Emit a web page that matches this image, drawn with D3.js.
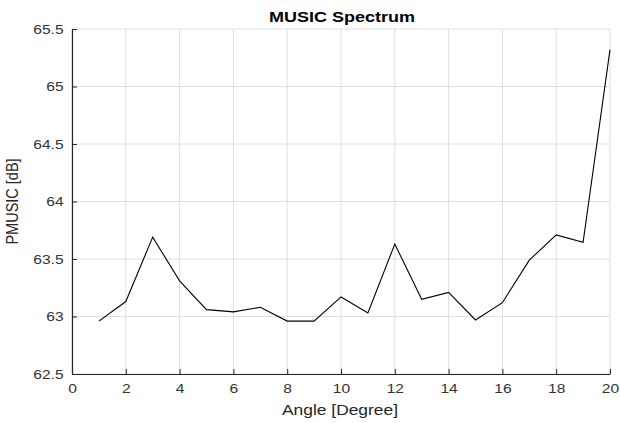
<!DOCTYPE html>
<html>
<head>
<meta charset="utf-8">
<script src="https://cdn.jsdelivr.net/npm/d3@7"></script>
<style>
  body { margin: 0; background: #fff; }
  text { font-family: "Liberation Sans", Arial, sans-serif; }
</style>
</head>
<body>
<div id="chart"></div>
<script>
// MUSIC spectrum values, one per angle
var angles = [1, 2, 3, 4, 5, 6, 7, 8, 9, 10, 11, 12, 13, 14, 15, 16, 17, 18, 19, 20],
  pmusic = [62.96, 63.13, 63.69, 63.31, 63.06, 63.04, 63.08, 62.96, 62.96, 63.17,
            63.03, 63.63, 63.15, 63.21, 62.97, 63.12, 63.49, 63.71, 63.645, 65.32];

var xTicks = [0, 2, 4, 6, 8, 10, 12, 14, 16, 18, 20],
  yTicks = [62.5, 63, 63.5, 64, 64.5, 65, 65.5];

// Placement
var width = 620,
  height = 423,
  mLeft = 72,
  mRight = 10,
  mTop = 29,
  mBottom = 49,
  stretch = 1.2; // the picture is widened a bit horizontally

var x = d3.scaleLinear().domain([0, 20]).range([mLeft, width - mRight]);
var y = d3.scaleLinear().domain([62.5, 65.5]).range([height - mBottom, mTop]);

var svg = d3.select("#chart")
  .append("svg")
  .attr("width", width)
  .attr("height", height);

// grid
var grid = svg.append("g").attr("stroke", "#dedede").attr("stroke-width", 1);
grid.selectAll("line.gx")
  .data(xTicks)
  .enter().append("line")
  .attr("x1", function(d) { return x(d); })
  .attr("x2", function(d) { return x(d); })
  .attr("y1", y(62.5))
  .attr("y2", y(65.5));
grid.selectAll("line.gy")
  .data(yTicks)
  .enter().append("line")
  .attr("x1", x(0))
  .attr("x2", x(20))
  .attr("y1", function(d) { return y(d); })
  .attr("y2", function(d) { return y(d); });

// axes, ticks pointing inward like MATLAB
var xAxis = d3.axisBottom(x).tickValues(xTicks).tickFormat(d3.format("d"))
    .tickSizeInner(-5).tickSizeOuter(0).tickPadding(10),
  yAxis = d3.axisLeft(y).tickValues(yTicks).tickFormat(function(d) { return String(d); })
    .tickSizeInner(-5).tickSizeOuter(0).tickPadding(7);

var gx = svg.append("g")
  .attr("transform", "translate(0," + y(62.5) + ")")
  .call(xAxis);
var gy = svg.append("g")
  .attr("transform", "translate(" + x(0) + ",0)")
  .call(yAxis);

[gx, gy].forEach(function(g) {
  g.select(".domain").attr("stroke", "#262626").attr("stroke-width", 1.2);
  g.selectAll(".tick line").attr("stroke", "#262626");
  g.selectAll(".tick text")
    .attr("fill", "#333")
    .style("font-size", "13px")
    .attr("font-family", null)
    .attr("transform", "scale(" + stretch + ",1)");
});

// spectrum line
var line = d3.line()
  .x(function(d, i) { return x(angles[i]); })
  .y(function(d) { return y(d); });

svg.append("path")
  .datum(pmusic)
  .attr("fill", "none")
  .attr("stroke", "#000")
  .attr("stroke-width", 1.1)
  .attr("d", line);

// labels
svg.append("text")
  .attr("transform", "translate(" + (x(10) + 1) + ",22) scale(" + stretch + ",1)")
  .attr("text-anchor", "middle")
  .attr("font-weight", "bold")
  .attr("font-size", "15px")
  .attr("fill", "#000")
  .text("MUSIC Spectrum");

svg.append("text")
  .attr("transform", "translate(" + (x(10) - 1) + ",415) scale(" + stretch + ",1)")
  .attr("text-anchor", "middle")
  .attr("font-size", "14.5px")
  .attr("fill", "#262626")
  .text("Angle [Degree]");

svg.append("text")
  .attr("transform", "translate(18," + ((y(62.5) + y(65.5)) / 2) + ") scale(" + stretch + ",1) rotate(-90)")
  .attr("text-anchor", "middle")
  .attr("font-size", "14.5px")
  .attr("fill", "#262626")
  .text("PMUSIC [dB]");
</script>
</body>
</html>
